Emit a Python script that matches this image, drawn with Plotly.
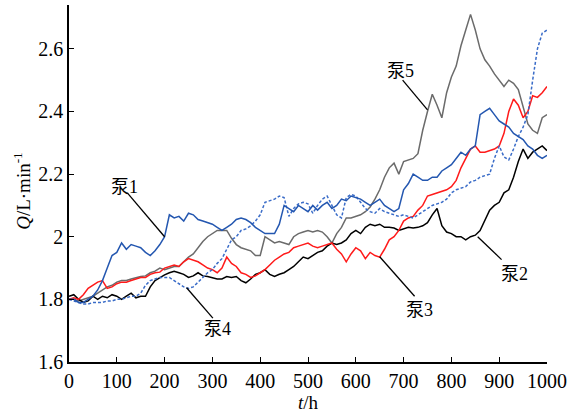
import plotly.graph_objects as go

hours = list(range(0, 1001, 10))

pump1 = [1.80, 1.80, 1.79, 1.79, 1.80, 1.81, 1.83, 1.86, 1.90, 1.94,
         1.95, 1.98, 1.96, 1.975, 1.97, 1.965, 1.95, 1.94, 1.955, 1.975,
         2.00, 2.07, 2.06, 2.065, 2.05, 2.075, 2.07, 2.055, 2.05, 2.045,
         2.04, 2.03, 2.02, 2.03, 2.04, 2.055, 2.06, 2.055, 2.045, 2.03,
         2.02, 2.01, 2.01, 2.01, 2.04, 2.10, 2.09, 2.08, 2.10, 2.09,
         2.08, 2.10, 2.085, 2.10, 2.11, 2.09, 2.10, 2.12, 2.115, 2.13,
         2.125, 2.12, 2.11, 2.10, 2.11, 2.12, 2.10, 2.09, 2.08, 2.09,
         2.15, 2.17, 2.20, 2.19, 2.18, 2.18, 2.19, 2.19, 2.21, 2.22,
         2.23, 2.25, 2.27, 2.26, 2.28, 2.29, 2.39, 2.40, 2.41, 2.39,
         2.37, 2.36, 2.35, 2.33, 2.32, 2.31, 2.29, 2.28, 2.26, 2.25,
         2.26]

pump2 = [1.81, 1.815, 1.80, 1.79, 1.795, 1.81, 1.80, 1.81, 1.805, 1.815,
         1.81, 1.80, 1.81, 1.82, 1.805, 1.81, 1.81, 1.84, 1.86, 1.87,
         1.878, 1.885, 1.89, 1.885, 1.88, 1.87, 1.875, 1.885, 1.875, 1.873,
         1.87, 1.865, 1.865, 1.873, 1.87, 1.873, 1.86, 1.853, 1.865, 1.88,
         1.885, 1.895, 1.88, 1.873, 1.88, 1.885, 1.895, 1.905, 1.92, 1.935,
         1.93, 1.94, 1.95, 1.955, 1.97, 1.98, 1.975, 1.98, 1.99, 2.01,
         2.02, 2.01, 2.03, 2.04, 2.035, 2.04, 2.03, 2.03, 2.028, 2.02,
         2.025, 2.03, 2.028, 2.03, 2.035, 2.045, 2.07, 2.09, 2.035, 2.015,
         2.01, 2.00, 2.00, 1.99, 2.00, 2.005, 2.02, 2.05, 2.085, 2.10,
         2.11, 2.14, 2.15, 2.19, 2.24, 2.28, 2.25, 2.27, 2.28, 2.29,
         2.275]

pump3 = [1.80, 1.805, 1.80, 1.815, 1.835, 1.845, 1.855, 1.86, 1.835, 1.84,
         1.85, 1.855, 1.855, 1.86, 1.865, 1.87, 1.87, 1.88, 1.885, 1.887,
         1.90, 1.905, 1.91, 1.905, 1.92, 1.93, 1.925, 1.92, 1.91, 1.90,
         1.895, 1.885, 1.90, 1.935, 1.915, 1.905, 1.885, 1.88, 1.87, 1.875,
         1.885, 1.895, 1.91, 1.925, 1.935, 1.945, 1.95, 1.965, 1.97, 1.975,
         1.98, 1.97, 1.965, 1.97, 1.975, 1.98, 1.96, 1.945, 1.92, 1.945,
         1.965, 1.955, 1.93, 1.95, 1.94, 1.935, 1.96, 1.99, 2.00, 2.02,
         2.05, 2.06, 2.065, 2.085, 2.10, 2.13, 2.135, 2.14, 2.145, 2.15,
         2.16, 2.18, 2.22, 2.25, 2.28, 2.29, 2.27, 2.27, 2.275, 2.28,
         2.29, 2.33, 2.40, 2.44, 2.42, 2.38, 2.40, 2.45, 2.445, 2.46,
         2.48]

pump4 = [1.80, 1.795, 1.79, 1.785, 1.785, 1.79, 1.79, 1.79, 1.795, 1.795,
         1.80, 1.80, 1.805, 1.81, 1.81, 1.82, 1.845, 1.86, 1.865, 1.87,
         1.87, 1.87, 1.86, 1.85, 1.84, 1.835, 1.84, 1.855, 1.87, 1.885,
         1.895, 1.915, 1.93, 1.96, 1.99, 2.00, 2.02, 2.025, 2.035, 2.05,
         2.07, 2.11, 2.115, 2.12, 2.13, 2.125, 2.065, 2.09, 2.105, 2.11,
         2.105, 2.075, 2.10, 2.12, 2.13, 2.10, 2.07, 2.06, 2.125, 2.135,
         2.13, 2.11, 2.09, 2.08, 2.075, 2.09, 2.08, 2.075, 2.07, 2.065,
         2.07, 2.065, 2.06, 2.07, 2.08, 2.09, 2.10, 2.105, 2.11, 2.12,
         2.14, 2.15, 2.155, 2.16, 2.175, 2.18, 2.19, 2.195, 2.20, 2.25,
         2.29, 2.255, 2.245, 2.28, 2.32, 2.35, 2.39, 2.50, 2.60, 2.65,
         2.66]

pump5 = [1.80, 1.80, 1.795, 1.80, 1.805, 1.81, 1.82, 1.83, 1.84, 1.845,
         1.855, 1.86, 1.86, 1.865, 1.87, 1.873, 1.875, 1.885, 1.89, 1.90,
         1.895, 1.90, 1.905, 1.905, 1.92, 1.935, 1.945, 1.965, 1.985, 2.00,
         2.01, 2.02, 2.02, 2.02, 1.995, 1.975, 1.965, 1.96, 1.955, 1.94,
         1.94, 2.00, 1.99, 1.98, 1.985, 1.98, 1.975, 2.00, 2.01, 2.015,
         2.02, 2.015, 2.02, 2.015, 2.00, 1.98, 2.01, 2.03, 2.06, 2.06,
         2.065, 2.07, 2.08, 2.095, 2.12, 2.15, 2.19, 2.22, 2.235, 2.20,
         2.24, 2.245, 2.25, 2.265, 2.34, 2.40, 2.455, 2.42, 2.38, 2.46,
         2.51, 2.545, 2.61, 2.66, 2.71, 2.66, 2.60, 2.565, 2.545, 2.52,
         2.50, 2.48, 2.50, 2.49, 2.47, 2.415, 2.36, 2.34, 2.33, 2.38,
         2.39]

x_ticks = [0, 100, 200, 300, 400, 500, 600, 700, 800, 900, 1000]
y_ticks = [1.6, 1.8, 2.0, 2.2, 2.4, 2.6]
y_tick_labels = ["1.6", "1.8", "2", "2.2", "2.4", "2.6"]

# label text, label position (x, y), leader line start (x, y), leader line end (x, y)
labels = ["泵1", "泵2", "泵3", "泵4", "泵5"]
label_pos = [(117, 2.16), (932, 1.88), (734, 1.767), (310, 1.705), (693, 2.53)]
leader_start = [(122, 2.14), (905, 1.927), (723, 1.81), (301, 1.74), (698, 2.50)]
leader_end = [(200, 2.0), (855, 2.0), (650, 1.936), (246, 1.837), (750, 2.405)]

serif = "Liberation Serif, Noto Sans CJK SC"

fig = go.Figure()
series = [
    (pump5, "#6b6b6b", "solid"),
    (pump2, "#000000", "solid"),
    (pump3, "#ff1a1a", "solid"),
    (pump4, "#3a6cc8", "3px,2px"),
    (pump1, "#2457b0", "solid"),
]
for ys, col, dash in series:
    fig.add_trace(go.Scatter(x=hours, y=ys, mode="lines",
                             line=dict(color=col, width=1.5, dash=dash),
                             showlegend=False, hoverinfo="skip"))

for (sx, sy), (ex, ey) in zip(leader_start, leader_end):
    fig.add_shape(type="line", xref="x", yref="y", x0=sx, y0=sy, x1=ex, y1=ey,
                  line=dict(color="black", width=1.3))

for txt, (lx, ly) in zip(labels, label_pos):
    fig.add_annotation(x=lx, y=ly, xref="x", yref="y", text=txt, showarrow=False,
                       xanchor="center", yanchor="middle",
                       font=dict(family=serif, size=18, color="black"))

fig.add_annotation(x=-0.1, y=0.48, xref="paper", yref="paper",
                   xanchor="center", yanchor="middle",
                   text="<i>Q</i>/L·min<sup>-1</sup>", textangle=-90, showarrow=False,
                   font=dict(family=serif, size=19, color="black"))
fig.add_annotation(x=0.5, y=-0.113, xref="paper", yref="paper",
                   xanchor="center", yanchor="middle",
                   text="<i>t</i>/h", showarrow=False,
                   font=dict(family=serif, size=19, color="black"))

fig.update_xaxes(range=[0, 1000], tickvals=x_ticks, ticks="inside", ticklen=5,
                 tickwidth=1.3, tickcolor="black", showline=True, linecolor="black",
                 linewidth=1.5, showgrid=False, zeroline=False,
                 tickfont=dict(family=serif, size=20, color="black"))
fig.update_yaxes(range=[1.6, 2.74], tickvals=y_ticks, ticktext=y_tick_labels,
                 ticks="inside", ticklen=5, tickwidth=1.3, tickcolor="black",
                 showline=True, linecolor="black", linewidth=1.5, showgrid=False,
                 zeroline=False, tickfont=dict(family=serif, size=20, color="black"))

fig.update_layout(width=581, height=416, margin=dict(l=69, r=34, t=5, b=54),
                  plot_bgcolor="white", paper_bgcolor="white")

fig.write_html("out.html")
